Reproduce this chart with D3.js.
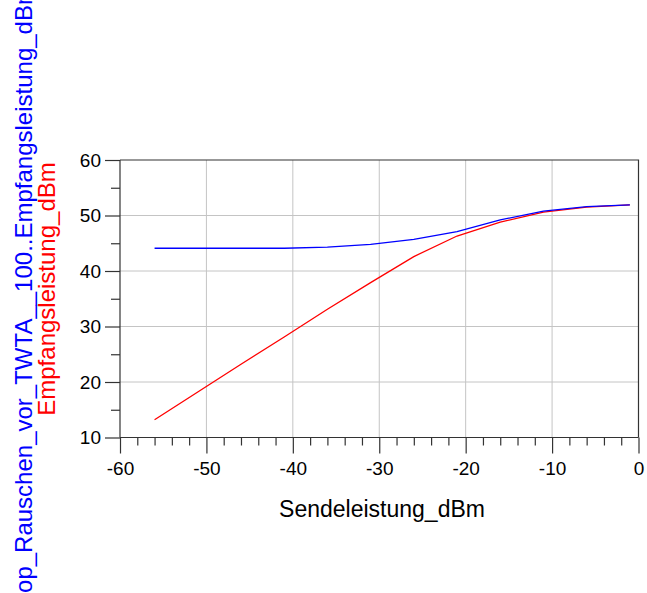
<!DOCTYPE html>
<html lang="de">
<head>
<meta charset="utf-8">
<title>Empfangsleistung</title>
<style>
  body { margin: 0; background: #fff; }
  svg text { font-family: "Liberation Sans", Arial, sans-serif; }
  .grid line { stroke: #c4c4c4; stroke-width: 1; }
  .frame { stroke: #333; stroke-width: 1.2; fill: none; }
</style>
</head>
<body>
<svg id="chart" width="647" height="593"></svg>
<script src="https://cdn.jsdelivr.net/npm/d3@7"></script>
<script>
// Sendeleistung in dBm (x-Werte)
var sendeleistung = [-56, -51, -46, -41, -36, -31, -26, -21, -16, -11, -6, -1];
// mit Rauschen vor TWTA (blau)
var empfRauschen = [44.1, 44.1, 44.1, 44.1, 44.3, 44.8, 45.7, 47.1, 49.2, 50.8, 51.6, 51.9];
// ohne Rauschen (rot)
var empfangsleistung = [13.2, 18.2, 23.2, 28.1, 33.1, 37.9, 42.6, 46.3, 48.8, 50.6, 51.5, 51.9];

var xTicks = [-60, -50, -40, -30, -20, -10, 0];
var yTicks = [10, 20, 30, 40, 50, 60];

var svg = d3.select("#chart");
var x = d3.scaleLinear().domain([-60, 0]).range([120, 638.5]);
var y = d3.scaleLinear().domain([10, 60]).range([437.5, 160]);

// grid
var grid = svg.append("g").attr("class", "grid");
grid.selectAll("line.v").data(xTicks.slice(1, -1)).enter().append("line")
    .attr("x1", d => x(d)).attr("x2", d => x(d))
    .attr("y1", y(60)).attr("y2", y(10));
grid.selectAll("line.h").data(yTicks.slice(1, -1)).enter().append("line")
    .attr("y1", d => y(d)).attr("y2", d => y(d))
    .attr("x1", x(-60)).attr("x2", x(0));

// frame top/right
svg.append("path").attr("class", "frame")
   .attr("d", "M" + x(-60) + "," + y(60) + "H" + x(0) + "V" + y(10));

// plain hyphen, not unicode minus
var fmt = function(d) { return String(d); };

// x axis
var xAxis = d3.axisBottom(x).tickValues(xTicks).tickSize(16).tickPadding(8)
    .tickFormat(fmt);
var xMinor = d3.axisBottom(x).tickValues(d3.range(-58, 0, 2).filter(d => d % 10 !== 0))
    .tickSize(8).tickFormat("");
var gx = svg.append("g").attr("transform", "translate(0," + y(10) + ")").call(xAxis);
svg.append("g").attr("transform", "translate(0," + y(10) + ")").call(xMinor)
   .select(".domain").remove();

// y axis
var yAxis = d3.axisLeft(y).tickValues(yTicks).tickSize(15).tickPadding(4)
    .tickFormat(fmt);
var yMinor = d3.axisLeft(y).tickValues([15, 25, 35, 45, 55]).tickSize(9).tickFormat("");
var gy = svg.append("g").attr("transform", "translate(" + x(-60) + ",0)").call(yAxis);
svg.append("g").attr("transform", "translate(" + x(-60) + ",0)").call(yMinor)
   .select(".domain").remove();

svg.selectAll(".tick line").attr("stroke", "#333").attr("stroke-width", 1.2);
svg.selectAll(".domain").attr("stroke", "#333").attr("stroke-width", 1.2);
gx.select(".domain").attr("d", "M" + x(-60) + ",0H" + x(0));
gy.select(".domain").attr("d", "M0," + y(60) + "V" + y(10));
svg.selectAll(".tick text").attr("font-size", 19).attr("fill", "#000")
   .style("font-family", "'Liberation Sans', Arial, sans-serif");

// lines
var line = d3.line().x((d, i) => x(sendeleistung[i])).y(d => y(d));
svg.append("path").datum(empfangsleistung).attr("d", line)
   .attr("fill", "none").attr("stroke", "#ff0000").attr("stroke-width", 1.3);
svg.append("path").datum(empfRauschen).attr("d", line)
   .attr("fill", "none").attr("stroke", "#0000ff").attr("stroke-width", 1.3);

// titles
svg.append("text").attr("x", 382).attr("y", 517).attr("text-anchor", "middle")
   .attr("font-size", 23).text("Sendeleistung_dBm");
svg.append("text").attr("transform", "translate(32,289) rotate(-90)")
   .attr("text-anchor", "middle").attr("font-size", 24).attr("fill", "#0000ff")
   .text("op_Rauschen_vor_TWTA__100..Empfangsleistung_dBm");
svg.append("text").attr("transform", "translate(55,289) rotate(-90)")
   .attr("text-anchor", "middle").attr("font-size", 24).attr("fill", "#ff0000")
   .text("Empfangsleistung_dBm");
</script>
</body>
</html>
